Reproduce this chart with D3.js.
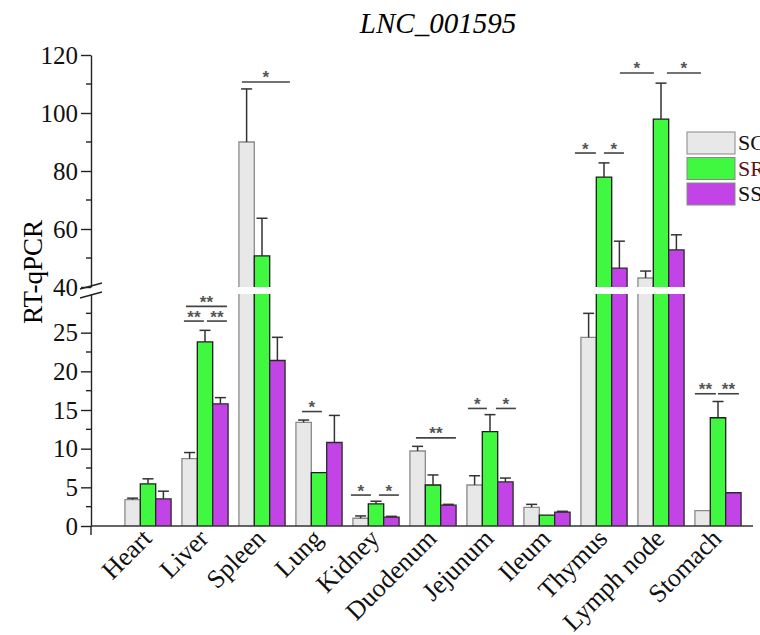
<!DOCTYPE html>
<html>
<head>
<meta charset="utf-8">
<script src="https://cdn.jsdelivr.net/npm/d3@7"></script>
<style>
  body { margin: 0; background: #fff; }
  svg { display: block; font-family: "Liberation Serif", "Times New Roman", serif; }
</style>
</head>
<body>
<svg id="chart" width="760" height="635"></svg>
<script>
// tissues and the three groups
const tissues = ["Heart", "Liver", "Spleen", "Lung", "Kidney", "Duodenum", "Jejunum", "Ileum", "Thymus", "Lymph node", "Stomach"];
const groups = ["SC", "SR", "SS"];
const scVals = [3.4, 8.7, 90.0, 13.4, 1.0, 9.7, 5.3, 2.4, 24.4, 43.1, 2.0];
const scErr  = [0.2, 0.8, 18.3, 0.3, 0.3, 0.6, 1.2, 0.4, 3.1, 2.4, 0];
const srVals = [5.45, 23.8, 50.7, 6.9, 2.85, 5.3, 12.2, 1.4, 77.9, 97.9, 14.0];
const srErr  = [0.65, 1.5, 13.0, 0, 0.35, 1.3, 2.2, 0, 4.9, 12.4, 2.1];
const ssVals = [3.5, 15.8, 21.4, 10.8, 1.15, 2.7, 5.7, 1.8, 46.5, 52.8, 4.3];
const ssErr  = [1.0, 0.8, 3.0, 3.5, 0.1, 0.1, 0.5, 0.1, 9.3, 5.2, 0];

// axis ticks (broken axis: 0-30 below, 40-120 above)
const lowTicks = [0, 5, 10, 15, 20, 25];
const lowMinor = [2.5, 7.5, 12.5, 17.5, 22.5, 27.5];
const highTicks = [40, 60, 80, 100, 120];
const highMinor = [50, 70, 90, 110];

// significance marks: tissue, height (data value), label, line span from/to (px from group start)
const sigTissue = ["Spleen", "Liver", "Liver", "Liver", "Lung", "Kidney", "Kidney", "Duodenum", "Jejunum", "Jejunum", "Thymus", "Thymus", "Lymph node", "Lymph node", "Stomach", "Stomach"];
const sigValue  = [110.7, 28.4, 26.5, 26.5, 14.8, 4.0, 4.0, 11.4, 15.2, 15.2, 86.2, 86.2, 113.8, 113.8, 17.1, 17.1];
const sigLabel  = ["*", "**", "**", "**", "*", "*", "*", "**", "*", "*", "*", "*", "*", "*", "**", "**"];
const sigFrom   = [3, 4, 2, 25, 6, -2, 26, 6, 1, 29, -6, 23, -18, 29, 0, 23];
const sigTo     = [51, 45, 22, 45, 26, 18, 46, 46, 20, 49, 15, 43, 16, 63, 21, 44];

const fills = {SC: "#e8e8e8", SR: "#40f840", SS: "#c344e6"};
const strokes = {SC: "#8a8a8a", SR: "#1c1c1c", SS: "#2a2a2a"};
const legendText = {SC: "#111", SR: "#5c1414", SS: "#111"};

const svg = d3.select("#chart");
const axisX = 91;

const x = d3.scaleBand()
    .domain(tissues)
    .range([119.5, 746.5])
    .paddingInner(0.19)
    .paddingOuter(0.095);
const xs = d3.scaleBand().domain(groups).range([0, x.bandwidth()]);

const yLow = d3.scaleLinear().domain([0, 30]).range([526, 294]);
const yHigh = d3.scaleLinear().domain([40, 120]).range([287, 55]);
const yv = v => v <= 30 ? yLow(v) : yHigh(v);

// rows of data
const rows = [];
tissues.forEach((t, i) => {
    rows.push({t, g: "SC", v: scVals[i], e: scErr[i]});
    rows.push({t, g: "SR", v: srVals[i], e: srErr[i]});
    rows.push({t, g: "SS", v: ssVals[i], e: ssErr[i]});
});

// title
svg.append("text")
    .attr("x", 438).attr("y", 33)
    .attr("text-anchor", "middle")
    .style("font-style", "italic")
    .style("font-size", "29px")
    .text("LNC_001595");

// y label
svg.append("text")
    .attr("transform", "translate(42,272) rotate(-90)")
    .attr("text-anchor", "middle")
    .style("font-size", "27px")
    .text("RT-qPCR");

// bars, drawn as pieces so the cut edges at the break have no outline
const barG = svg.append("g");
rows.forEach(d => {
    const x0 = x(d.t) + xs(d.g);
    const w = xs.bandwidth();
    const pieces = d.v <= 30
        ? [[yLow(0), yLow(d.v), true]]
        : [[yLow(0), yLow(30), false], [yHigh(40), yHigh(d.v), true]];
    pieces.forEach(([yb, yt, closed]) => {
        barG.append("rect")
            .attr("x", x0).attr("y", yt)
            .attr("width", w).attr("height", yb - yt)
            .attr("fill", fills[d.g]);
        const p = d3.path();
        p.moveTo(x0, yb);
        p.lineTo(x0, yt);
        if (closed) p.lineTo(x0 + w, yt); else p.moveTo(x0 + w, yt);
        p.lineTo(x0 + w, yb);
        barG.append("path")
            .attr("d", p.toString())
            .attr("fill", "none")
            .attr("stroke", strokes[d.g])
            .attr("stroke-width", 1.3);
    });
    // error bar (upward only)
    if (d.e > 0) {
        const cx = x0 + w / 2;
        barG.append("line")
            .attr("x1", cx).attr("x2", cx)
            .attr("y1", yv(d.v)).attr("y2", yv(d.v + d.e))
            .attr("stroke", "#333").attr("stroke-width", 1.5);
        barG.append("line")
            .attr("x1", cx - 5.5).attr("x2", cx + 5.5)
            .attr("y1", yv(d.v + d.e)).attr("y2", yv(d.v + d.e))
            .attr("stroke", "#333").attr("stroke-width", 1.5);
    }
});

// axes
const axLow = svg.append("g")
    .attr("transform", `translate(${axisX},0)`)
    .call(d3.axisLeft(yLow).tickValues(lowTicks).tickSize(10).tickPadding(3).tickSizeOuter(0));
axLow.append("g").selectAll("line").data(lowMinor).join("line")
    .attr("x1", -5).attr("x2", 0)
    .attr("y1", d => yLow(d)).attr("y2", d => yLow(d));

const axHigh = svg.append("g")
    .attr("transform", `translate(${axisX},0)`)
    .call(d3.axisLeft(yHigh).tickValues(highTicks).tickSize(10).tickPadding(3).tickSizeOuter(0));
axHigh.append("g").selectAll("line").data(highMinor).join("line")
    .attr("x1", -5).attr("x2", 0)
    .attr("y1", d => yHigh(d)).attr("y2", d => yHigh(d));

[axLow, axHigh].forEach(a => {
    a.selectAll("path, line").attr("stroke", "#222").attr("stroke-width", 1.4);
    a.selectAll("text")
        .style("font-family", "Liberation Serif, serif")
        .style("font-size", "25px")
        .attr("fill", "#111");
});

// y axis runs a little below the x axis
svg.append("line")
    .attr("x1", axisX).attr("x2", axisX)
    .attr("y1", yLow(0)).attr("y2", yLow(0) + 9)
    .attr("stroke", "#222").attr("stroke-width", 1.4);

// break marks
[0, 9].forEach(off => {
    svg.append("line")
        .attr("x1", axisX - 11).attr("y1", yHigh(40) + 2 + off)
        .attr("x2", axisX + 11).attr("y2", yHigh(40) - 4 + off)
        .attr("stroke", "#222").attr("stroke-width", 1.4);
});

// x axis
svg.append("line")
    .attr("x1", axisX).attr("x2", 753)
    .attr("y1", yLow(0)).attr("y2", yLow(0))
    .attr("stroke", "#333").attr("stroke-width", 1.4);

svg.append("g").selectAll("text").data(tissues).join("text")
    .attr("transform", d => `translate(${x(d) + x.bandwidth() / 2 + 5},540) rotate(-45)`)
    .attr("text-anchor", "end")
    .style("font-size", "26px")
    .attr("fill", "#111")
    .text(d => d);

// significance lines and stars
const sigG = svg.append("g");
sigTissue.forEach((t, i) => {
    const x0 = x(t) + sigFrom[i];
    const x1 = x(t) + sigTo[i];
    const yy = yv(sigValue[i]);
    sigG.append("line")
        .attr("x1", x0).attr("x2", x1)
        .attr("y1", yy).attr("y2", yy)
        .attr("stroke", "#444").attr("stroke-width", 1.6);
    sigG.append("text")
        .attr("x", (x0 + x1) / 2).attr("y", yy + 1.5)
        .attr("text-anchor", "middle")
        .style("font-family", "Liberation Sans, sans-serif")
        .style("font-size", "17px")
        .style("font-weight", "bold")
        .attr("fill", "#555")
        .text(sigLabel[i]);
});

// legend
const leg = svg.append("g");
groups.forEach((g, i) => {
    leg.append("rect")
        .attr("x", 687).attr("y", 132 + i * 25.5)
        .attr("width", 48).attr("height", 22)
        .attr("fill", fills[g])
        .attr("stroke", "#888").attr("stroke-width", 1);
    leg.append("text")
        .attr("x", 738).attr("y", 150 + i * 25.5)
        .style("font-size", "22px")
        .attr("fill", legendText[g])
        .text(g);
});
</script>
</body>
</html>
